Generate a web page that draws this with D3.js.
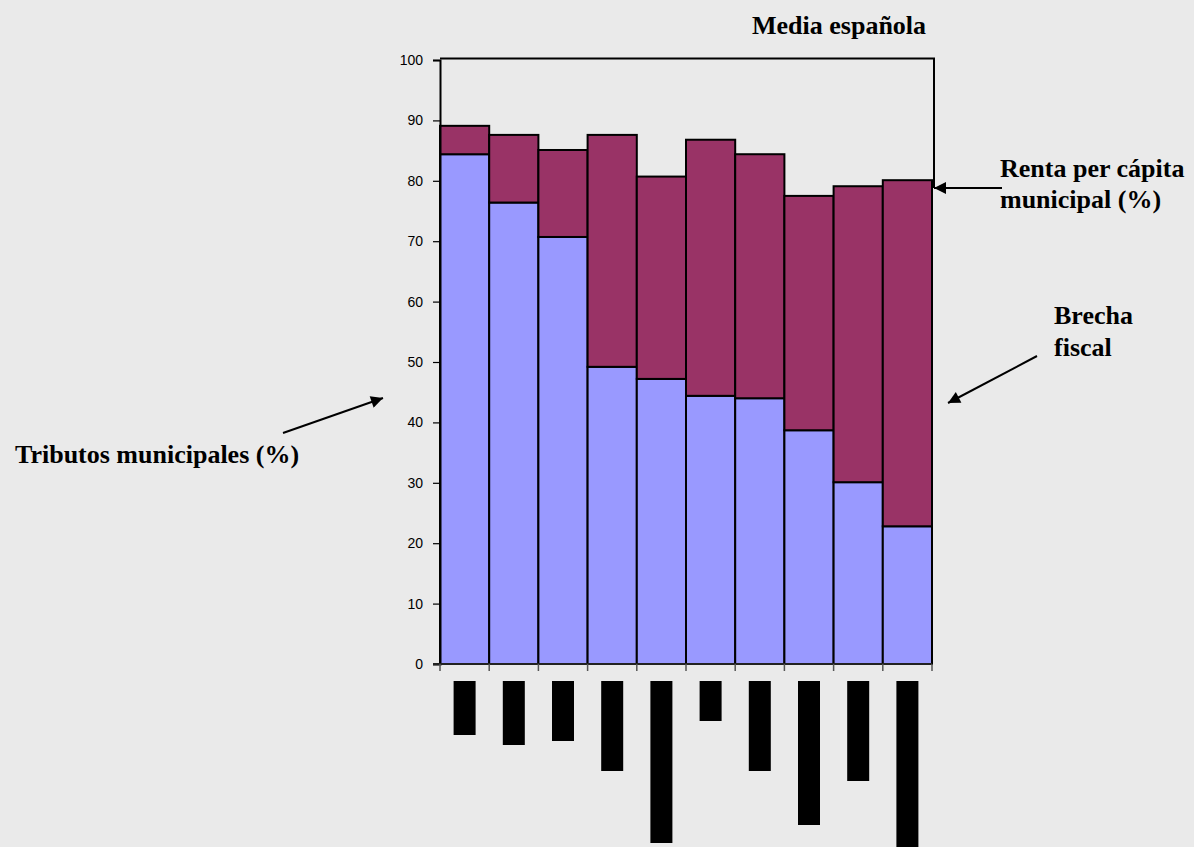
<!DOCTYPE html>
<html>
<head>
<meta charset="utf-8">
<script src="https://cdn.jsdelivr.net/npm/d3@7"></script>
<style>
  html, body { margin: 0; padding: 0; background: #eaeaea; }
  svg { display: block; }
</style>
</head>
<body>
<svg id="chart" width="1194" height="847"></svg>
<script>
// ---- data ----
const categories = ["1", "2", "3", "4", "5", "6", "7", "8", "9", "10"];
const tributos = [84.4, 76.4, 70.7, 49.2, 47.2, 44.4, 44.0, 38.7, 30.1, 22.8];
const brecha   = [4.7, 11.2, 14.4, 38.4, 33.5, 42.4, 40.4, 38.8, 49.0, 57.3];
const labelLen = [54, 64, 60, 90, 162, 40, 90, 144, 100, 180];
const yTicks = [0, 10, 20, 30, 40, 50, 60, 70, 80, 90, 100];

(function () {
const svg = d3.select("#chart");
const pLeft = 440, pRight = 932, pTop = 60, pBottom = 664;

const x = d3.scaleBand().domain(categories).range([pLeft, pRight]).padding(0);
const y = d3.scaleLinear().domain([0, 100]).range([pBottom, pTop]);
const lenScale = d3.scaleLinear().domain([0, 1]).range([0, 1]);

const serif = "'Liberation Serif', 'Times New Roman', serif";
const sans = "'Liberation Sans', Arial, sans-serif";

// bracket line for "Media española"
svg.append("path")
  .attr("d", `M${pLeft},${y(100) - 1.5}H${x(categories[9]) + x.bandwidth() + 2}V188`)
  .attr("fill", "none").attr("stroke", "#000").attr("stroke-width", 2);

// bars
const data = categories.map((c, i) => ({ c, t: tributos[i], b: brecha[i] }));
const g = svg.append("g");
g.selectAll("rect.trib").data(data).join("rect")
  .attr("class", "trib")
  .attr("x", d => x(d.c)).attr("width", x.bandwidth())
  .attr("y", d => y(d.t)).attr("height", d => y(0) - y(d.t))
  .attr("fill", "#9999ff").attr("stroke", "#000").attr("stroke-width", 2);
g.selectAll("rect.brecha").data(data).join("rect")
  .attr("class", "brecha")
  .attr("x", d => x(d.c)).attr("width", x.bandwidth())
  .attr("y", d => y(d.t + d.b)).attr("height", d => y(d.t) - y(d.t + d.b))
  .attr("fill", "#993366").attr("stroke", "#000").attr("stroke-width", 2);

// y axis
const yAxis = svg.append("g").attr("transform", `translate(${pLeft},0)`)
  .call(d3.axisLeft(y).tickValues(yTicks).tickSize(7).tickPadding(10));
yAxis.select(".domain").attr("stroke", "#000").attr("stroke-width", 2);
yAxis.selectAll(".tick line").attr("stroke", "#000").attr("stroke-width", 1.2);
yAxis.selectAll(".tick text").attr("font-family", sans).attr("font-size", 14).attr("fill", "#000");

// x axis line and ticks at category boundaries
svg.append("line").attr("x1", 433).attr("x2", pRight).attr("y1", pBottom).attr("y2", pBottom)
  .attr("stroke", "#222").attr("stroke-width", 2);
const bounds = categories.map(c => x(c)).concat([pRight]);
svg.selectAll("line.xt").data(bounds).join("line").attr("class", "xt")
  .attr("x1", d => d).attr("x2", d => d).attr("y1", pBottom).attr("y2", pBottom + 7)
  .attr("stroke", "#555").attr("stroke-width", 1.5);

// category labels (rendered as solid blocks as in the reference)
svg.selectAll("rect.lab").data(data).join("rect").attr("class", "lab")
  .attr("x", d => x(d.c) + x.bandwidth() / 2 - 11).attr("width", 22)
  .attr("y", 681).attr("height", (d, i) => lenScale(labelLen[i]))
  .attr("fill", "#000");

// arrowhead marker
svg.append("defs").append("marker")
  .attr("id", "ah").attr("viewBox", "0 0 10 10").attr("refX", 10).attr("refY", 5)
  .attr("markerWidth", 14).attr("markerHeight", 12).attr("markerUnits", "userSpaceOnUse")
  .attr("orient", "auto")
  .append("path").attr("d", "M0,0L10,5L0,10Z").attr("fill", "#000");

const arrows = [
  [1002, 188, 934, 188],
  [283, 433, 383, 398],
  [1037, 356, 948, 403]
];
svg.selectAll("line.arr").data(arrows).join("line").attr("class", "arr")
  .attr("x1", d => d[0]).attr("y1", d => d[1]).attr("x2", d => d[2]).attr("y2", d => d[3])
  .attr("stroke", "#000").attr("stroke-width", 2).attr("marker-end", "url(#ah)");

// annotation texts
function txt(s, xx, yy, anchor) {
  svg.append("text").text(s).attr("x", xx).attr("y", yy)
    .attr("font-family", serif).attr("font-weight", "bold").attr("font-size", 26)
    .attr("text-anchor", anchor || "start").attr("fill", "#000");
}
txt("Media española", 752, 34);
txt("Renta per cápita", 1000, 177);
txt("municipal (%)", 1000, 208);
txt("Brecha", 1054, 324);
txt("fiscal", 1054, 356);
txt("Tributos municipales (%)", 15, 463);
})();
</script>
</body>
</html>
